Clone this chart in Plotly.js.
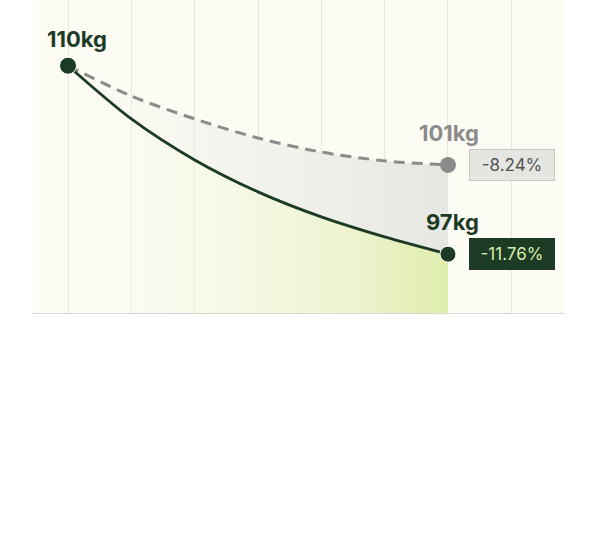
<!DOCTYPE html>
<html>
<head>
<meta charset="utf-8">
<script src="https://cdn.plot.ly/plotly-3.0.1.min.js"></script>
<style>
  html, body { margin: 0; padding: 0; background: #ffffff; }
  #chart { width: 596px; height: 546px; }
</style>
</head>
<body>
<div id="chart"></div>
<script>
// weeks along the x axis, one gridline each
const weeks = [0, 1, 2, 3, 4, 5, 6];
const gridWeeks = [0, 1, 2, 3, 4, 5, 6, 7];

// curve heights on an unlabelled 0-100 scale
const withPlan = [79, 62, 48.9, 38.7, 30.7, 24.3, 18.8];
const withoutPlan = [79, 69.3, 62, 55.9, 51.4, 48.6, 47.3];

const startWeight = "110kg";
const endWeights = ["101kg", "97kg"];
const changes = ["-8.24%", "-11.76%"];

const darkGreen = "#1c3a24";
const grey = "#8b8b8b";
const font = "Inter, 'Noto Sans', sans-serif";

const last = weeks.length - 1;

const traces = [
    // green area under the plan curve
    {
        x: weeks, y: withPlan,
        type: "scatter", mode: "lines",
        line: {width: 0, shape: "spline", smoothing: 0.8},
        fill: "tozeroy",
        fillgradient: {
            type: "horizontal",
            colorscale: [[0, "rgba(250,252,238,0)"], [0.4, "rgba(242,247,222,0.55)"], [0.75, "rgba(234,242,200,0.85)"], [1, "rgba(223,237,172,1)"]]
        },
        hoverinfo: "skip", showlegend: false
    },
    // grey band between the two curves
    {
        x: weeks, y: withoutPlan,
        type: "scatter", mode: "lines",
        line: {width: 0, shape: "spline", smoothing: 0.8},
        fill: "tonexty",
        fillgradient: {
            type: "horizontal",
            colorscale: [[0, "rgba(245,245,240,0)"], [0.4, "rgba(240,240,236,0.6)"], [1, "rgba(230,230,226,1)"]]
        },
        hoverinfo: "skip", showlegend: false
    },
    {
        x: weeks, y: withoutPlan,
        type: "scatter", mode: "lines",
        line: {color: grey, width: 3, dash: "11px,7px", shape: "spline", smoothing: 0.8},
        hoverinfo: "skip", showlegend: false
    },
    {
        x: weeks, y: withPlan,
        type: "scatter", mode: "lines",
        line: {color: darkGreen, width: 2.8, shape: "spline", smoothing: 0.8},
        hoverinfo: "skip", showlegend: false
    },
    // end points
    {
        x: [weeks[last]], y: [withoutPlan[last]],
        type: "scatter", mode: "markers",
        marker: {color: grey, size: 16, opacity: 1},
        hoverinfo: "skip", showlegend: false
    },
    {
        x: [weeks[0], weeks[last]], y: [withPlan[0], withPlan[last]],
        type: "scatter", mode: "markers",
        marker: {color: darkGreen, size: [17, 16], opacity: 1},
        hoverinfo: "skip", showlegend: false
    }
];

const annotations = [
    {
        x: weeks[0], y: withPlan[0], text: startWeight,
        showarrow: false, xanchor: "center", yanchor: "middle",
        xshift: 9, yshift: 27,
        font: {family: font, size: 22, color: darkGreen, weight: 700}
    },
    {
        x: weeks[last], y: withoutPlan[last], text: endWeights[0],
        showarrow: false, xanchor: "center", yanchor: "middle",
        xshift: 1, yshift: 32,
        font: {family: font, size: 22, color: grey, weight: 700}
    },
    {
        x: weeks[last], y: withPlan[last], text: endWeights[1],
        showarrow: false, xanchor: "center", yanchor: "middle",
        xshift: 5, yshift: 32,
        font: {family: font, size: 22, color: darkGreen, weight: 700}
    },
    {
        x: weeks[last], y: withoutPlan[last], text: changes[0],
        showarrow: false, xanchor: "center", yanchor: "middle",
        xshift: 64, width: 84, height: 30,
        bgcolor: "#e5e5e2", bordercolor: "#c9c9c5", borderwidth: 1, borderpad: 0,
        font: {family: font, size: 17, color: "#555555"}
    },
    {
        x: weeks[last], y: withPlan[last], text: changes[1],
        showarrow: false, xanchor: "center", yanchor: "middle",
        xshift: 64, width: 84, height: 30,
        bgcolor: darkGreen, bordercolor: darkGreen, borderwidth: 1, borderpad: 0,
        font: {family: font, size: 17, color: "#d6ecaa"}
    }
];

const layout = {
    width: 596,
    height: 546,
    margin: {l: 33, r: 31, t: 0, b: 233},
    paper_bgcolor: "#ffffff",
    plot_bgcolor: "#fcfcf4",
    showlegend: false,
    xaxis: {
        range: [-0.553, 7.848],
        tickvals: gridWeeks,
        showticklabels: false,
        showgrid: true,
        gridcolor: "#e6e6df",
        gridwidth: 1,
        zeroline: false,
        showline: true,
        linecolor: "#d9d9d4",
        linewidth: 1,
        ticks: "",
        fixedrange: true
    },
    yaxis: {
        range: [0, 100],
        showgrid: false,
        showticklabels: false,
        zeroline: false,
        showline: false,
        ticks: "",
        fixedrange: true
    },
    annotations: annotations
};

Plotly.newPlot("chart", traces, layout, {displayModeBar: false, staticPlot: true});
</script>
</body>
</html>
